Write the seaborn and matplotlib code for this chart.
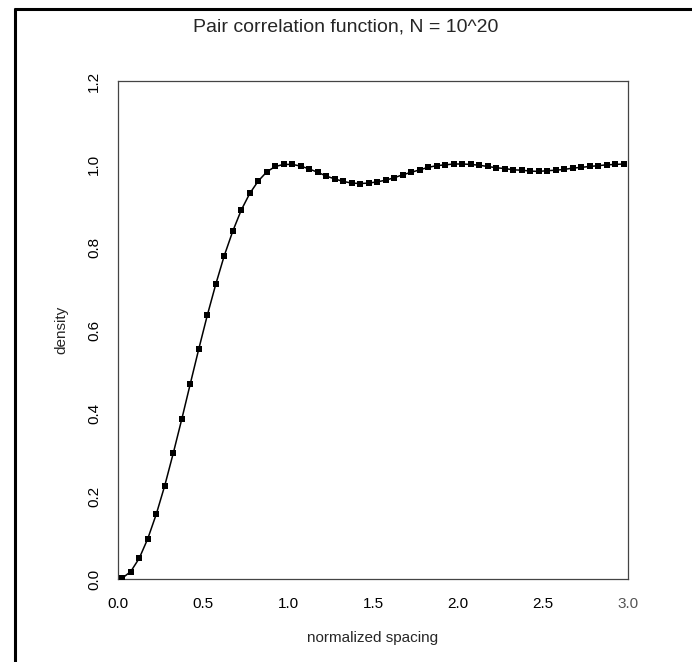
import matplotlib
matplotlib.use("Agg")
import matplotlib.pyplot as plt
from matplotlib.lines import Line2D
import seaborn as sns
import pandas as pd

# ---- data ----
spacing = [0.025, 0.075, 0.125, 0.175, 0.225, 0.275, 0.325, 0.375, 0.425, 0.475,
           0.525, 0.575, 0.625, 0.675, 0.725, 0.775, 0.825, 0.875, 0.925, 0.975,
           1.025, 1.075, 1.125, 1.175, 1.225, 1.275, 1.325, 1.375, 1.425, 1.475,
           1.525, 1.575, 1.625, 1.675, 1.725, 1.775, 1.825, 1.875, 1.925, 1.975,
           2.025, 2.075, 2.125, 2.175, 2.225, 2.275, 2.325, 2.375, 2.425, 2.475,
           2.525, 2.575, 2.625, 2.675, 2.725, 2.775, 2.825, 2.875, 2.925, 2.975]
density = [0.002, 0.018, 0.050, 0.097, 0.156, 0.225, 0.303, 0.385, 0.470, 0.554,
           0.635, 0.710, 0.779, 0.838, 0.889, 0.929, 0.959, 0.981, 0.994, 0.999,
           0.999, 0.995, 0.988, 0.980, 0.971, 0.964, 0.958, 0.954, 0.953, 0.954,
           0.957, 0.961, 0.967, 0.974, 0.980, 0.986, 0.992, 0.996, 0.998, 1.000,
           1.000, 0.999, 0.997, 0.994, 0.991, 0.989, 0.986, 0.985, 0.983, 0.982,
           0.984, 0.985, 0.987, 0.990, 0.992, 0.994, 0.996, 0.998, 0.999, 1.000]
curve_start_x = [0.0]
curve_start_y = [0.0]

x_ticks = [0.0, 0.5, 1.0, 1.5, 2.0, 2.5, 3.0]
y_ticks = [0.0, 0.2, 0.4, 0.6, 0.8, 1.0, 1.2]

title = "Pair correlation function, N = 10^20"
x_label = "normalized spacing"
y_label = "density"

# ---- figure ----
sns.set_style("white")
plt.rcParams['font.family'] = ['Liberation Sans', 'DejaVu Sans']

fig = plt.figure(figsize=(6.92, 6.62), dpi=100)
ax = fig.add_axes([118/692, 1 - 579/662, 510/692, 498/662])

pts = pd.DataFrame({"spacing": spacing, "density": density})
curve = pd.DataFrame({"spacing": curve_start_x + spacing,
                      "density": curve_start_y + density})

sns.lineplot(data=curve, x="spacing", y="density", color="black",
             linewidth=1.1, ax=ax, sort=True)
sns.scatterplot(data=pts, x="spacing", y="density", color="black",
                marker="s", s=14, linewidth=0, ax=ax, zorder=3)

ax.set_xlim(0, 3.0)
ax.set_ylim(0, 1.2)
ax.set_xticks(x_ticks)
ax.set_yticks(y_ticks)
ax.set_xticklabels([f"{v:.1f}" for v in x_ticks])
ax.set_yticklabels([f"{v:.1f}" for v in y_ticks], rotation=90, va="center")

ax.tick_params(axis="both", direction="in", length=6.5, width=0.8,
               color="black", labelsize=11, labelcolor="black")
ax.tick_params(axis="x", pad=13)
ax.tick_params(axis="y", pad=12)
ax.get_xticklabels()[-1].set_color("#555555")

for sp in ax.spines.values():
    sp.set_visible(True)
    sp.set_color("#444444")
    sp.set_linewidth(0.9)

ax.set_xlabel(x_label, fontsize=11)
ax.set_ylabel(y_label, fontsize=11)
ax.xaxis.set_label_coords(0.5, -0.104)
ax.yaxis.set_label_coords(-0.098, 0.5)

fig.text(346/692, 1 - 27/662, title, fontsize=14, ha="center", va="center")

# scanned page frame (left and top edges)
fig.add_artist(Line2D([15/692, 15/692], [0, 1 - 8/662], transform=fig.transFigure,
                      color="black", linewidth=2.2, solid_capstyle="butt"))
fig.add_artist(Line2D([14/692, 1], [1 - 9/662, 1 - 9/662], transform=fig.transFigure,
                      color="black", linewidth=2.2, solid_capstyle="butt"))

fig.savefig("out.png", dpi=100, facecolor="white")
